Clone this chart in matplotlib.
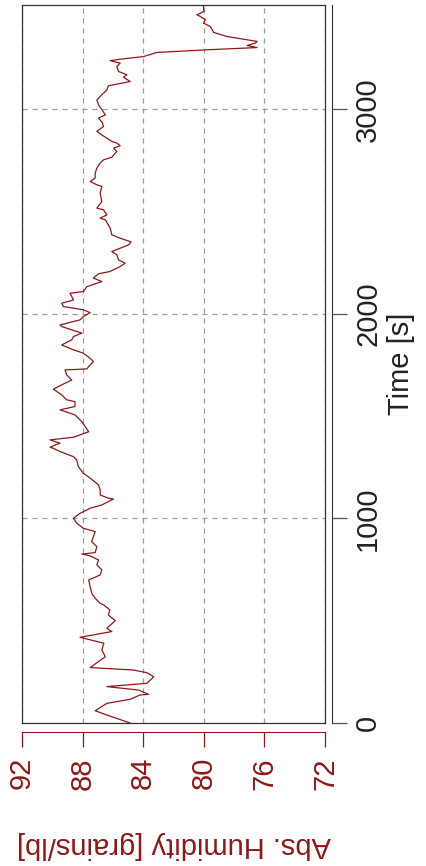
import matplotlib
matplotlib.use('Agg')
from matplotlib import pyplot as plt

# readings: time [s] and absolute humidity [grains/lb]
time_s = [0, 39, 60, 96, 116, 137, 140, 161, 178, 194, 226, 246, 259, 271, 300, 324, 357, 390,
          419, 447, 463, 500, 528, 553, 577, 585, 610, 634, 667, 699, 724, 748, 773, 797, 817,
          826, 833, 862, 887, 911, 936, 952, 977, 1001, 1025, 1050, 1066, 1095, 1099, 1115, 1139,
          1164, 1197, 1221, 1253, 1286, 1302, 1327, 1343, 1348, 1359, 1368, 1384, 1397, 1424,
          1449, 1473, 1506, 1531, 1547, 1571, 1580, 1604, 1632, 1653, 1677, 1702, 1726, 1731,
          1751, 1767, 1783, 1808, 1824, 1848, 1873, 1889, 1906, 1938, 1946, 1971, 1987, 2006,
          2020, 2036, 2052, 2068, 2101, 2109, 2133, 2158, 2175, 2196, 2207, 2231, 2248, 2264,
          2289, 2305, 2321, 2337, 2352, 2370, 2386, 2419, 2460, 2468, 2484, 2509, 2517, 2549,
          2590, 2623, 2631, 2647, 2664, 2688, 2713, 2737, 2753, 2766, 2794, 2810, 2822, 2835,
          2843, 2859, 2875, 2892, 2916, 2935, 2957, 2973, 2998, 3022, 3046, 3071, 3095, 3115,
          3136, 3157, 3169, 3185, 3209, 3226, 3238, 3245, 3258, 3278, 3291, 3302, 3312, 3324,
          3332, 3340, 3356, 3376, 3405, 3421, 3438, 3454, 3462, 3478, 3503, 3510]
humidity = [84.86, 86.4, 87.17, 86.4, 84.86, 84.2, 83.65, 84.3, 86.4, 83.76, 83.3, 83.76, 84.64,
            87.5, 86.95, 86.5, 86.73, 86.6, 88.17, 86.07, 86.4, 85.85, 86.3, 86.2, 86.6, 86.84,
            87.17, 87.4, 87.5, 87.6, 86.84, 86.73, 87.06, 86.95, 87.5, 88.05, 87.17, 87.06, 87.4,
            87.29, 87.17, 87.95, 88.39, 88.6, 88.17, 87.5, 86.73, 85.96, 86.3, 86.84, 86.84,
            86.95, 87.5, 87.95, 88.28, 88.39, 88.6, 89.49, 89.93, 90.15, 89.82, 89.49, 90.15,
            88.6, 87.6, 87.83, 88.05, 88.5, 89.49, 88.5, 88.5, 89.05, 89.38, 89.93, 89.38, 88.72,
            89.05, 89.16, 87.72, 87.5, 87.29, 87.5, 87.95, 88.6, 89.38, 88.72, 88.6, 88.05, 89.38,
            89.49, 88.17, 87.95, 87.5, 87.95, 89.27, 89.38, 88.6, 88.83, 87.95, 87.72, 86.73,
            87.29, 86.95, 86.2, 85.52, 85.19, 85.63, 85.74, 86.07, 85.52, 84.97, 84.8, 85.52,
            86.07, 86.18, 86.5, 86.84, 86.4, 86.62, 87.06, 86.73, 86.84, 86.73, 87.06, 87.5,
            87.17, 87.17, 87.06, 86.84, 86.62, 86.07, 85.74, 85.96, 85.52, 85.74, 86.07, 86.4,
            86.73, 87.06, 86.62, 86.7, 86.95, 86.5, 86.73, 86.95, 87.06, 86.73, 86.4, 86.3,
            84.86, 85.3, 85.08, 85.63, 85.74, 85.52, 86.18, 85.52, 83.98, 83.1, 79.79, 76.48,
            77.14, 76.6, 76.48, 77.14, 78.47, 79.35, 79.57, 80.01, 79.9, 80.23, 80.45, 80.01,
            80.01, 80.12]
hum_ticks = [92, 88, 84, 80, 76, 72]
time_ticks = [0, 1000, 2000, 3000]

red = '#8B1A1A'
plt.rcParams['font.family'] = ['Liberation Sans', 'DejaVu Sans']

fig = plt.figure(figsize=(4.26, 8.66), dpi=100)
rect = [22 / 426, 143 / 866, 303 / 426, 718 / 866]

# plotting panel with frame and dashed grid
ax = fig.add_axes(rect)
ax.plot(humidity, time_s, color=red, lw=0.9)
ax.set_xlim(92, 72)
ax.set_ylim(0, 3510)
ax.set_xticks(hum_ticks)
ax.set_yticks(time_ticks)
ax.tick_params(length=0, labelbottom=False, labelleft=False)
ax.grid(True, color='#999999', lw=0.9, ls=(0, (4, 4)))
for s in ax.spines.values():
    s.set_color('#333333')
    s.set_linewidth(0.9)

# detached axes (R style)
ax2 = fig.add_axes(rect, facecolor='none', sharex=ax, sharey=ax)
ax2.spines['top'].set_visible(False)
ax2.spines['left'].set_visible(False)
ax2.spines['right'].set_position(('outward', 5))
ax2.spines['right'].set_color('#333333')
ax2.spines['bottom'].set_position(('outward', 6.5))
ax2.spines['bottom'].set_color(red)
ax2.yaxis.tick_right()
ax2.tick_params(axis='y', length=11, width=0.9, color='#555555', pad=5, labelsize=21,
                labelrotation=90, labelcolor='#222222')
ax2.tick_params(axis='x', length=11, width=0.9, color=red, pad=7, labelsize=21,
                labelrotation=90, labelcolor=red)
for lab in ax2.get_yticklabels():
    lab.set_va('center')

fig.text(401 / 426, 1 - 364 / 866, 'Time [s]', rotation=90, ha='center', va='center',
         fontsize=21, color='#222222')
fig.text(174 / 426, 1 - 845 / 866, 'Abs. Humidity [grains/lb]', rotation=180, ha='center',
         va='center', fontsize=21, color=red)

plt.savefig('out.png', dpi=100)
